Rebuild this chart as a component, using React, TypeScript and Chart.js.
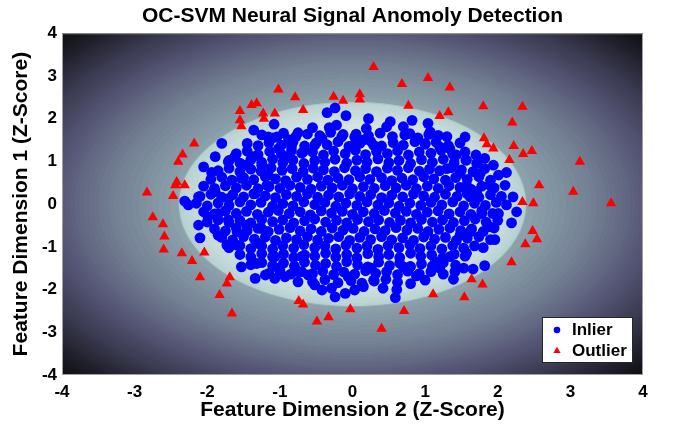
import React, { useEffect, useRef } from "react";
import { Chart, registerables } from "chart.js";

Chart.register(...registerables);

const FONT = '"Liberation Sans", Arial, Helvetica, sans-serif';

const titleText = "OC-SVM Neural Signal Anomoly Detection";
const xTitle = "Feature Dimension 2 (Z-Score)";
const yTitle = "Feature Dimension 1 (Z-Score)";
const legendLabels = ["Inlier", "Outlier"];
const xTicks = [-4, -3, -2, -1, 0, 1, 2, 3, 4];
const yTicks = [-4, -3, -2, -1, 0, 1, 2, 3, 4];
const axisMin = -4;
const axisMax = 4;

// decision-field shading: radius (z units) -> colormap level
const fieldRadius = [0, 0.8, 1.5, 2.0, 2.3, 2.38, 2.4, 2.7, 3.2, 3.7, 4.2, 4.7, 5.2, 5.7];
const fieldLevel = [0.955, 0.945, 0.91, 0.86, 0.81, 0.79, 0.63, 0.59, 0.53, 0.45, 0.36, 0.26, 0.15, 0.05];

// outer (sparse) inliers
const inlierEdge: [number, number][] = [
  [-0.24, 2.25], [-0.35, 2.14], [-0.09, 2.07], [-1.08, 1.87], [-1.36, 1.73], [-0.55, 1.79], [-0.32, 1.79],
  [-0.22, 1.85], [-0.75, 1.67], [-1.16, 1.57], [-1.04, 1.57], [-0.42, 1.54], [-0.88, 1.51], [-0.13, 1.63],
  [-1.8, 1.42], [-1.89, 1.11], [-1.37, 1.11], [-1.62, 1.11], [-1.71, 0.99], [-2.05, 0.87], [-1.94, 0.74],
  [-1.48, 0.91], [-1.53, 0.6], [-1.16, 0.68], [-1.18, 0.44], [-1.89, 0.29], [-2.12, 0.17], [-2.31, 0.07],
  [-1.71, 0.13], [-1.34, 0.25], [-1.02, 1.3], [-0.84, 1.34], [-0.52, 1.38], [-0.68, 1.22], [-0.93, 1.11],
  [-1.25, 0.91],
  [0.22, 2.0], [0.19, 1.77], [0.52, 1.93], [0.47, 1.81], [0.7, 1.81], [0.82, 1.96], [0.79, 1.65], [1.04, 1.89],
  [1.07, 1.69], [1.18, 1.61], [1.55, 1.57], [1.0, 1.42], [1.2, 1.34], [1.34, 1.3], [1.43, 1.15], [1.57, 1.03],
  [1.71, 0.95], [1.82, 1.07], [1.94, 0.91], [1.76, 0.72], [2.01, 0.68], [2.12, 0.74], [1.89, 0.44], [2.21, 0.17],
  [1.48, 0.72], [1.3, 0.83], [1.57, 0.44], [1.71, 0.29], [1.62, 0.17], [0.03, 1.57], [0.15, 1.5], [0.29, 1.38],
  [0.01, 1.38],
  [-2.26, -0.02], [-2.12, -0.49], [-2.1, -0.79], [-1.85, -0.73], [-1.73, -0.96], [-1.59, -0.65], [-1.59, -0.96],
  [-1.53, -1.47], [-1.34, -1.74], [-1.32, -1.39], [-1.2, -1.66], [-1.07, -1.74], [-1.02, -1.5], [-0.93, -1.7],
  [-0.75, -1.82], [-0.75, -1.58], [-0.7, -1.23], [-0.61, -1.66], [-0.52, -1.89], [-0.42, -2.01], [-0.29, -1.97],
  [-0.24, -2.17], [-0.1, -2.09], [-0.06, -1.7], [-1.99, -0.3], [-1.71, -0.37], [-1.85, -0.22], [-1.3, -0.92],
  [-1.07, -1.23], [-1.25, -0.57], [-1.46, -0.49],
  [2.01, -0.22], [2.19, -0.44], [2.26, -0.18], [1.96, -0.83], [1.8, -1.02], [1.82, -1.44], [1.66, -1.52],
  [1.53, -1.5], [1.41, -1.58], [1.39, -1.76], [1.2, -1.5], [1.14, -1.35], [1.34, -1.23], [0.88, -1.68],
  [0.79, -1.47], [0.7, -1.47], [0.61, -2.0], [0.59, -2.19], [0.42, -1.97], [0.29, -1.78], [0.26, -1.5],
  [0.15, -1.93], [0.03, -2.01], [1.57, -1.15], [1.78, -0.22], [1.89, -0.53], [1.62, -0.65], [1.48, -0.73],
];

// dense central inliers, estimated row by row
const inlierCore: [number, number][] = [
  [-1.25, 1.62], [-1.1, 1.55], [-0.95, 1.66], [-0.78, 1.58], [-0.62, 1.64], [-0.45, 1.6], [-0.3, 1.68], [-0.15, 1.57],
  [0.05, 1.64], [0.22, 1.6], [0.38, 1.66], [0.55, 1.58], [0.72, 1.62], [0.9, 1.55], [1.05, 1.63], [1.3, 1.58],
  [-1.45, 1.42], [-1.3, 1.37], [-1.15, 1.44], [-0.98, 1.38], [-0.82, 1.45], [-0.66, 1.36], [-0.5, 1.43], [-0.35, 1.39],
  [-0.2, 1.46], [-0.05, 1.35], [0.1, 1.42], [0.25, 1.47], [0.4, 1.36], [0.56, 1.44], [0.7, 1.38], [0.86, 1.46],
  [1.0, 1.4], [1.15, 1.45], [1.32, 1.37], [1.48, 1.43],
  [-1.6, 1.18], [-1.45, 1.24], [-1.3, 1.16], [-1.14, 1.23], [-0.98, 1.17], [-0.84, 1.25], [-0.7, 1.19], [-0.55, 1.22],
  [-0.4, 1.15], [-0.26, 1.24], [-0.1, 1.18], [0.04, 1.26], [0.18, 1.16], [0.33, 1.23], [0.48, 1.18], [0.62, 1.25],
  [0.77, 1.15], [0.92, 1.22], [1.08, 1.19], [1.22, 1.26], [1.38, 1.17], [1.55, 1.22], [1.7, 1.15],
  [-1.7, 1.02], [-1.55, 0.96], [-1.4, 1.04], [-1.25, 0.98], [-1.1, 1.05], [-0.96, 0.97], [-0.82, 1.03], [-0.67, 0.95],
  [-0.52, 1.02], [-0.38, 0.98], [-0.24, 1.05], [-0.08, 0.96], [0.06, 1.03], [0.2, 0.98], [0.35, 1.06], [0.5, 0.97],
  [0.64, 1.02], [0.8, 0.95], [0.95, 1.04], [1.1, 0.98], [1.25, 1.05], [1.4, 0.97], [1.56, 1.03], [1.72, 0.98],
  [-1.85, 0.78], [-1.7, 0.84], [-1.55, 0.76], [-1.4, 0.82], [-1.26, 0.77], [-1.12, 0.85], [-0.97, 0.79], [-0.83, 0.83],
  [-0.68, 0.76], [-0.54, 0.84], [-0.4, 0.8], [-0.25, 0.76], [-0.11, 0.85], [0.04, 0.78], [0.18, 0.83], [0.33, 0.76],
  [0.48, 0.84], [0.62, 0.79], [0.77, 0.85], [0.92, 0.77], [1.06, 0.82], [1.2, 0.78], [1.36, 0.85], [1.5, 0.8],
  [1.66, 0.76], [1.82, 0.83],
  [-1.95, 0.58], [-1.8, 0.63], [-1.66, 0.56], [-1.5, 0.62], [-1.36, 0.57], [-1.2, 0.64], [-1.06, 0.59], [-0.92, 0.55],
  [-0.77, 0.63], [-0.62, 0.58], [-0.48, 0.64], [-0.34, 0.56], [-0.2, 0.61], [-0.05, 0.57], [0.1, 0.64], [0.24, 0.58],
  [0.4, 0.62], [0.54, 0.55], [0.68, 0.61], [0.83, 0.57], [0.98, 0.64], [1.12, 0.59], [1.28, 0.56], [1.42, 0.62],
  [1.58, 0.58], [1.74, 0.64], [1.9, 0.56],
  [-2.05, 0.42], [-1.9, 0.37], [-1.75, 0.43], [-1.6, 0.38], [-1.46, 0.44], [-1.3, 0.36], [-1.15, 0.41], [-1.0, 0.37],
  [-0.86, 0.44], [-0.72, 0.39], [-0.57, 0.35], [-0.43, 0.42], [-0.28, 0.38], [-0.14, 0.44], [0.0, 0.36], [0.15, 0.41],
  [0.3, 0.37], [0.45, 0.43], [0.6, 0.38], [0.74, 0.44], [0.88, 0.36], [1.03, 0.42], [1.18, 0.37], [1.33, 0.43],
  [1.48, 0.39], [1.63, 0.35], [1.78, 0.42], [1.95, 0.38], [2.1, 0.44],
  [-2.1, 0.18], [-1.95, 0.23], [-1.8, 0.16], [-1.65, 0.22], [-1.5, 0.17], [-1.36, 0.24], [-1.2, 0.19], [-1.06, 0.15],
  [-0.91, 0.22], [-0.77, 0.18], [-0.62, 0.24], [-0.48, 0.16], [-0.33, 0.21], [-0.19, 0.17], [-0.04, 0.24], [0.1, 0.18],
  [0.25, 0.22], [0.4, 0.15], [0.54, 0.21], [0.69, 0.17], [0.84, 0.24], [0.98, 0.19], [1.13, 0.16], [1.28, 0.23],
  [1.44, 0.18], [1.58, 0.24], [1.74, 0.16], [1.9, 0.22], [2.05, 0.18],
  [-2.15, 0.02], [-2.0, -0.04], [-1.85, 0.03], [-1.7, -0.03], [-1.55, 0.05], [-1.4, -0.02], [-1.26, 0.04], [-1.1, -0.05],
  [-0.96, 0.01], [-0.82, -0.04], [-0.67, 0.05], [-0.52, -0.01], [-0.38, 0.04], [-0.23, -0.05], [-0.09, 0.02], [0.06, -0.03],
  [0.2, 0.05], [0.35, -0.02], [0.5, 0.03], [0.64, -0.05], [0.79, 0.02], [0.94, -0.03], [1.08, 0.04], [1.23, -0.02],
  [1.38, 0.05], [1.53, -0.04], [1.68, 0.02], [1.83, -0.03], [1.98, 0.04], [2.12, -0.02],
  [-2.05, -0.18], [-1.9, -0.23], [-1.75, -0.16], [-1.6, -0.22], [-1.46, -0.17], [-1.31, -0.24], [-1.16, -0.19], [-1.02, -0.15],
  [-0.87, -0.22], [-0.72, -0.18], [-0.58, -0.25], [-0.43, -0.16], [-0.29, -0.21], [-0.14, -0.17], [0.0, -0.24], [0.15, -0.18],
  [0.3, -0.22], [0.44, -0.15], [0.59, -0.21], [0.74, -0.17], [0.88, -0.24], [1.03, -0.19], [1.18, -0.16], [1.33, -0.23],
  [1.48, -0.18], [1.63, -0.24], [1.78, -0.16], [1.93, -0.22],
  [-2.0, -0.42], [-1.85, -0.37], [-1.7, -0.43], [-1.55, -0.38], [-1.4, -0.44], [-1.25, -0.36], [-1.1, -0.41], [-0.96, -0.37],
  [-0.81, -0.44], [-0.66, -0.39], [-0.52, -0.35], [-0.37, -0.42], [-0.22, -0.38], [-0.08, -0.44], [0.07, -0.36], [0.22, -0.41],
  [0.36, -0.37], [0.51, -0.43], [0.66, -0.38], [0.8, -0.44], [0.95, -0.36], [1.1, -0.42], [1.24, -0.37], [1.39, -0.43],
  [1.54, -0.39], [1.69, -0.35], [1.84, -0.42], [2.0, -0.38],
  [-1.9, -0.58], [-1.75, -0.63], [-1.6, -0.56], [-1.45, -0.62], [-1.3, -0.57], [-1.16, -0.64], [-1.01, -0.59], [-0.86, -0.55],
  [-0.72, -0.63], [-0.57, -0.58], [-0.43, -0.64], [-0.28, -0.56], [-0.13, -0.61], [0.01, -0.57], [0.16, -0.64], [0.31, -0.58],
  [0.45, -0.62], [0.6, -0.55], [0.75, -0.61], [0.9, -0.57], [1.04, -0.64], [1.19, -0.59], [1.34, -0.56], [1.49, -0.62],
  [1.64, -0.58], [1.8, -0.64], [1.95, -0.56],
  [-1.8, -0.78], [-1.65, -0.84], [-1.5, -0.76], [-1.35, -0.82], [-1.2, -0.77], [-1.06, -0.85], [-0.91, -0.79], [-0.77, -0.83],
  [-0.62, -0.76], [-0.48, -0.84], [-0.33, -0.8], [-0.19, -0.76], [-0.04, -0.85], [0.1, -0.78], [0.25, -0.83], [0.4, -0.76],
  [0.54, -0.84], [0.69, -0.79], [0.84, -0.85], [0.98, -0.77], [1.13, -0.82], [1.28, -0.78], [1.43, -0.85], [1.58, -0.8],
  [1.74, -0.76], [1.9, -0.83],
  [-1.7, -1.02], [-1.55, -0.97], [-1.4, -1.04], [-1.25, -0.98], [-1.1, -1.05], [-0.96, -0.97], [-0.81, -1.03], [-0.67, -0.95],
  [-0.52, -1.02], [-0.38, -0.98], [-0.23, -1.05], [-0.09, -0.96], [0.06, -1.03], [0.2, -0.98], [0.35, -1.06], [0.49, -0.97],
  [0.64, -1.02], [0.79, -0.95], [0.93, -1.04], [1.08, -0.98], [1.23, -1.05], [1.38, -0.97], [1.53, -1.03], [1.68, -0.98],
  [-1.55, -1.18], [-1.4, -1.24], [-1.25, -1.16], [-1.1, -1.23], [-0.95, -1.17], [-0.81, -1.25], [-0.66, -1.19], [-0.52, -1.22],
  [-0.37, -1.15], [-0.23, -1.24], [-0.08, -1.18], [0.06, -1.26], [0.21, -1.16], [0.36, -1.23], [0.5, -1.18], [0.65, -1.25],
  [0.8, -1.15], [0.94, -1.22], [1.09, -1.19], [1.24, -1.26], [1.4, -1.17], [1.55, -1.22],
  [-1.4, -1.42], [-1.25, -1.37], [-1.1, -1.44], [-0.95, -1.38], [-0.8, -1.45], [-0.66, -1.36], [-0.51, -1.43], [-0.37, -1.39],
  [-0.22, -1.46], [-0.08, -1.35], [0.07, -1.42], [0.21, -1.47], [0.36, -1.36], [0.51, -1.44], [0.65, -1.38], [0.8, -1.46],
  [0.95, -1.4], [1.1, -1.45], [1.25, -1.37], [1.42, -1.43],
  [-1.15, -1.62], [-1.0, -1.56], [-0.85, -1.64], [-0.7, -1.58], [-0.55, -1.63], [-0.41, -1.57], [-0.26, -1.65], [-0.12, -1.59],
  [0.03, -1.64], [0.18, -1.56], [0.32, -1.62], [0.47, -1.58], [0.62, -1.65], [0.76, -1.57], [0.92, -1.63], [1.08, -1.58],
  [1.25, -1.64],
  [-0.55, -1.82], [-0.38, -1.77], [-0.2, -1.84], [-0.02, -1.79], [0.13, -1.85], [0.3, -1.8], [0.46, -1.76], [0.62, -1.83],
  [0.8, -1.86], [1.0, -1.78],
];

const outlierPoints: [number, number][] = [
  [-1.02, 2.68], [-0.79, 2.5], [-0.26, 2.51], [-0.13, 2.42], [0.1, 2.57], [0.1, 2.45], [-1.39, 2.32], [-1.32, 2.36],
  [-1.55, 2.18], [-1.23, 2.12], [-1.07, 2.12], [-0.68, 2.2], [-1.22, 2.0], [-1.55, 1.96], [-1.53, 1.82], [-2.18, 1.42],
  [-2.34, 1.16], [-2.4, 0.99], [-2.42, 0.52], [-2.44, 0.44], [-2.31, 0.44], [-2.83, 0.27], [-2.47, 0.19],
  [0.29, 3.21], [0.68, 2.81], [1.04, 2.95], [1.34, 2.73], [0.77, 2.3], [1.2, 2.06], [1.32, 2.15], [1.8, 2.29],
  [2.34, 2.28], [2.2, 1.91], [1.81, 1.54], [1.85, 1.4], [1.94, 1.3], [2.22, 1.36], [2.35, 1.17], [2.47, 1.24],
  [2.16, 1.03], [3.13, 0.99], [2.57, 0.44], [3.04, 0.29], [3.56, 0.02], [2.34, 0.05], [2.49, 0.02],
  [-2.75, -0.31], [-2.61, -0.47], [-2.59, -0.76], [-2.6, -1.06], [-2.35, -1.15], [-2.21, -1.33], [-2.04, -1.13],
  [-2.1, -1.71], [-1.69, -1.71], [-1.73, -1.86], [-1.83, -2.13], [-1.66, -2.56], [-0.74, -2.27], [-0.68, -2.35],
  [-0.49, -2.75], [-0.33, -2.65], [-0.03, -2.46], [2.48, -0.63], [2.54, -0.82], [2.38, -0.94], [2.19, -1.36],
  [1.64, -1.76], [1.79, -1.88], [1.11, -2.11], [1.54, -2.18], [0.71, -2.5], [0.4, -2.92],
];

const inlierPoints = [...inlierEdge, ...inlierCore];

function bone(t: number): [number, number, number] {
  const hr = t < 0.375 ? t / 0.375 : 1;
  const hg = t < 0.375 ? 0 : t < 0.75 ? (t - 0.375) / 0.375 : 1;
  const hb = t < 0.75 ? 0 : (t - 0.75) / 0.25;
  return [
    Math.round(((7 * t + hb) / 8) * 255),
    Math.round(((7 * t + hg) / 8) * 255),
    Math.round(((7 * t + hr) / 8) * 255),
  ];
}

function levelAt(r: number): number {
  if (r <= fieldRadius[0]) return fieldLevel[0];
  for (let i = 1; i < fieldRadius.length; i++) {
    if (r <= fieldRadius[i]) {
      const f = (r - fieldRadius[i - 1]) / (fieldRadius[i] - fieldRadius[i - 1]);
      return fieldLevel[i - 1] + f * (fieldLevel[i] - fieldLevel[i - 1]);
    }
  }
  return fieldLevel[fieldLevel.length - 1];
}

const fieldPlugin = {
  id: "decisionField",
  beforeDatasetsDraw(chart: any) {
    const { ctx, chartArea: a, scales } = chart;
    const w = Math.round(a.right - a.left);
    const h = Math.round(a.bottom - a.top);
    const off = document.createElement("canvas");
    off.width = w;
    off.height = h;
    const octx = off.getContext("2d")!;
    const img = octx.createImageData(w, h);
    const xs: number[] = [];
    for (let i = 0; i < w; i++) xs.push(scales.x.getValueForPixel(a.left + i + 0.5));
    for (let j = 0; j < h; j++) {
      const yv = scales.y.getValueForPixel(a.top + j + 0.5);
      for (let i = 0; i < w; i++) {
        const r = Math.hypot(xs[i], yv);
        const t = Math.round(levelAt(r) * 90) / 90;
        const c = bone(t);
        const k = (j * w + i) * 4;
        img.data[k] = c[0];
        img.data[k + 1] = c[1];
        img.data[k + 2] = c[2];
        img.data[k + 3] = 255;
      }
    }
    octx.putImageData(img, 0, 0);
    ctx.save();
    ctx.drawImage(off, a.left, a.top);
    ctx.restore();
  },
  afterDatasetsDraw(chart: any) {
    const { ctx, chartArea: a } = chart;
    ctx.save();
    ctx.strokeStyle = "#a0a0a0";
    ctx.lineWidth = 1;
    ctx.strokeRect(a.left + 0.5, a.top + 0.5, a.right - a.left - 1, a.bottom - a.top - 1);
    ctx.restore();
  },
  afterDraw(chart: any) {
    const { ctx, chartArea: a } = chart;
    const bw = 91;
    const bh = 46;
    const bx = a.right - 10 - bw;
    const by = a.bottom - 12 - bh;
    ctx.save();
    ctx.fillStyle = "#ffffff";
    ctx.fillRect(bx, by, bw, bh);
    ctx.strokeStyle = "#262626";
    ctx.lineWidth = 1;
    ctx.strokeRect(bx + 0.5, by + 0.5, bw - 1, bh - 1);
    const rows = [by + 13, by + 34];
    ctx.fillStyle = "#0000ff";
    ctx.beginPath();
    ctx.arc(bx + 15, rows[0], 3.3, 0, Math.PI * 2);
    ctx.fill();
    ctx.fillStyle = "#ff0000";
    const r = 4.2;
    ctx.beginPath();
    ctx.moveTo(bx + 15, rows[1] - r);
    ctx.lineTo(bx + 15 + r * 0.866, rows[1] + r * 0.5);
    ctx.lineTo(bx + 15 - r * 0.866, rows[1] + r * 0.5);
    ctx.closePath();
    ctx.fill();
    ctx.fillStyle = "#000000";
    ctx.font = `bold 17px ${FONT}`;
    ctx.textAlign = "left";
    ctx.textBaseline = "middle";
    ctx.fillText(legendLabels[0], bx + 30, rows[0]);
    ctx.fillText(legendLabels[1], bx + 30, rows[1]);
    ctx.restore();
  },
};

export default function App() {
  const ref = useRef<HTMLCanvasElement | null>(null);
  useEffect(() => {
    if (!ref.current) return;
    const chart = new Chart(ref.current, {
      type: "scatter",
      data: {
        datasets: [
          {
            label: legendLabels[0],
            data: inlierPoints.map(([x, y]) => ({ x, y })),
            pointStyle: "circle",
            pointRadius: 5.4,
            backgroundColor: "#0000ff",
            borderWidth: 0,
            order: 2,
          },
          {
            label: legendLabels[1],
            data: outlierPoints.map(([x, y]) => ({ x, y })),
            pointStyle: "triangle",
            pointRadius: 6,
            backgroundColor: "#ff0000",
            borderWidth: 0,
            order: 1,
          },
        ],
      },
      options: {
        animation: false,
        responsive: false,
        devicePixelRatio: 1,
        events: [],
        layout: { padding: { left: 0, right: 30, top: 0, bottom: 0 } },
        plugins: {
          legend: { display: false },
          tooltip: { enabled: false },
          title: {
            display: true,
            fullSize: false,
            text: titleText,
            color: "#000",
            font: { family: FONT, size: 21, weight: "bold" },
            padding: { top: 4, bottom: 4 },
          },
        },
        scales: {
          x: {
            type: "linear",
            min: axisMin,
            max: axisMax,
            afterBuildTicks: (s: any) => {
              s.ticks = xTicks.map((v) => ({ value: v }));
            },
            afterFit: (s: any) => {
              s.height = 51;
            },
            ticks: { color: "#000", font: { family: FONT, size: 17, weight: "bold" }, padding: 7 },
            grid: { display: false, drawTicks: false },
            border: { display: false },
            title: {
              display: true,
              text: xTitle,
              color: "#000",
              font: { family: FONT, size: 21, weight: "bold" },
              padding: { top: 0, bottom: 3 },
            },
          },
          y: {
            type: "linear",
            min: axisMin,
            max: axisMax,
            afterBuildTicks: (s: any) => {
              s.ticks = yTicks.map((v) => ({ value: v }));
            },
            afterFit: (s: any) => {
              s.width = 62;
            },
            ticks: { color: "#000", font: { family: FONT, size: 17, weight: "bold" }, padding: 5 },
            grid: { display: false, drawTicks: false },
            border: { display: false },
            title: {
              display: true,
              text: yTitle,
              color: "#000",
              font: { family: FONT, size: 21, weight: "bold" },
              padding: { top: 9, bottom: 0 },
            },
          },
        },
      },
      plugins: [fieldPlugin],
    } as any);
    return () => chart.destroy();
  }, []);
  return (
    <div style={{ position: "absolute", left: 0, top: 0, width: 673, height: 426 }}>
      <canvas ref={ref} width={673} height={426} style={{ display: "block", width: 673, height: 426 }} />
    </div>
  );
}
